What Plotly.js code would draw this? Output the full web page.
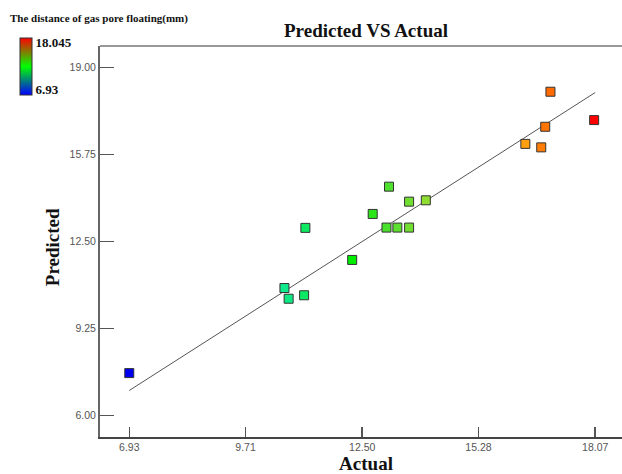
<!DOCTYPE html>
<html>
<head>
<meta charset="utf-8">
<script src="https://cdn.plot.ly/plotly-3.0.1.min.js"></script>
<style>
  html, body { margin: 0; padding: 0; overflow: hidden; background: #fff; }
  #chart { width: 632px; height: 474px; }
</style>
</head>
<body>
<div id="chart"></div>
<script>
// ---- data ----
const actual = [6.93, 10.64, 10.74, 11.11, 11.14, 12.26, 12.75, 13.08, 13.14, 13.34, 13.62, 13.62, 14.02, 16.40, 16.78, 16.875, 17.00, 18.045];
const predicted = [7.58, 10.76, 10.36, 10.49, 13.01, 11.81, 13.53, 13.02, 14.55, 13.02, 13.02, 13.99, 14.04, 16.15, 16.02, 16.79, 18.10, 17.04];
const fitX = [6.93, 18.07];
const fitY = [6.93, 18.07];
const xTickVals = [6.93, 9.71, 12.50, 15.28, 18.07];
const xTickText = ["6.93", "9.71", "12.50", "15.28", "18.07"];
const yTickVals = [6.00, 9.25, 12.50, 15.75, 19.00];
const yTickText = ["6.00", "9.25", "12.50", "15.75", "19.00"];
const colorMin = 6.93;
const colorMax = 18.045;
const colorLabels = ["6.93", "18.045"];

const serif = "Liberation Serif, Times New Roman, serif";
const sans = "Liberation Sans, Arial, sans-serif";

const markerScale = [
  [0, '#0000f0'], [0.33, '#10e890'], [0.48, '#00ee00'], [0.56, '#50e030'],
  [0.64, '#90dd30'], [0.85, '#ffa010'], [0.91, '#ff6600'], [1, '#ff0000']
];
const barScale = [[0, '#0000ff'], [0.5, '#00ff00'], [1, '#ff0000']];
const span = colorMax - colorMin;

const traces = [
  {
    x: fitX, y: fitY, type: 'scatter', mode: 'lines',
    line: { color: '#555', width: 1 }, hoverinfo: 'skip', showlegend: false
  },
  {
    x: actual, y: predicted, type: 'scatter', mode: 'markers',
    marker: {
      symbol: 'square', size: 9, color: actual, colorscale: markerScale,
      cmin: colorMin, cmax: colorMax, showscale: false,
      line: { color: '#333', width: 1 }
    },
    showlegend: false
  },
  {
    x: actual, y: predicted, type: 'scatter', mode: 'markers', hoverinfo: 'skip',
    marker: {
      size: 1, opacity: 0, color: actual, colorscale: barScale,
      cmin: colorMin, cmax: colorMax, showscale: true,
      colorbar: {
        x: -0.1504, xanchor: 'left', xpad: 0,
        y: 1.0212, yanchor: 'top', ypad: 0,
        thickness: 12, len: 57, lenmode: 'pixels',
        outlinewidth: 1, outlinecolor: '#333',
        tickvals: [colorMin + 0.09 * span, colorMax - 0.09 * span],
        ticktext: colorLabels, ticks: '', ticklen: 0,
        tickfont: { family: serif, size: 13, color: '#111', weight: 'bold' }
      }
    },
    showlegend: false
  }
];

const layout = {
  width: 632, height: 474,
  margin: { l: 100, r: 0, t: 46, b: 37 },
  paper_bgcolor: '#fff', plot_bgcolor: '#fff',
  title: {
    text: '<b>Predicted VS Actual</b>',
    font: { family: serif, size: 19, color: '#111' },
    xref: 'paper', x: 0.5, xanchor: 'center',
    yref: 'container', y: 1 - 30 / 474, yanchor: 'middle'
  },
  xaxis: {
    range: [6.23, 18.95],
    tickvals: xTickVals, ticktext: xTickText,
    ticks: 'inside', ticklen: 10, tickwidth: 1.5, tickcolor: '#555',
    tickfont: { family: sans, size: 10.5, color: '#555' },
    showgrid: false, zeroline: false,
    showline: true, linecolor: '#444', linewidth: 1.5,
    title: { text: '<b>Actual</b>', font: { family: serif, size: 19, color: '#111' }, standoff: 2 }
  },
  yaxis: {
    range: [5.19, 19.81],
    tickvals: yTickVals, ticktext: yTickText,
    ticks: 'inside', ticklen: 14, tickwidth: 1.5, tickcolor: '#555',
    tickfont: { family: sans, size: 10.5, color: '#555' },
    showgrid: false, zeroline: false,
    showline: true, linecolor: '#666', linewidth: 2,
    title: { text: '' }
  },
  shapes: [
    { type: 'line', xref: 'paper', yref: 'paper', x0: 0, x1: 1, y0: 1, y1: 1,
      line: { color: '#999', width: 2 } }
  ],
  annotations: [
    { text: '<b>The distance of gas pore floating(mm)</b>', xref: 'paper', yref: 'paper',
      x: -0.1729, xanchor: 'left', y: (437 - 18) / 391, yanchor: 'middle',
      showarrow: false, font: { family: serif, size: 11, color: '#111' } },
    { text: '<b>Predicted</b>', xref: 'paper', yref: 'paper', textangle: -90,
      x: (52.7 - 100) / 532, xanchor: 'center', y: (437 - 247.5) / 391, yanchor: 'middle',
      showarrow: false, font: { family: serif, size: 19, color: '#111' } }
  ]
};

Plotly.newPlot('chart', traces, layout, { displayModeBar: false, staticPlot: true });
</script>
</body>
</html>
